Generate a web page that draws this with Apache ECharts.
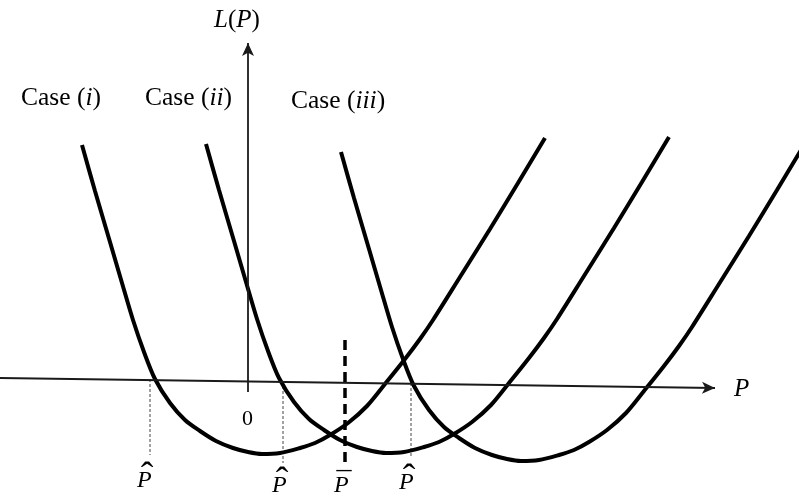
<!DOCTYPE html>
<html>
<head>
<meta charset="utf-8">
<script src="https://cdn.jsdelivr.net/npm/echarts@6/dist/echarts.min.js"></script>
<style>
  html, body { margin: 0; padding: 0; background: #fff; }
  #chart { width: 799px; height: 500px; }
</style>
</head>
<body>
<div id="chart"></div>
<script>
// curves as [P, L]
var caseI = [[-166,237],[-153,191],[-138,140],[-126,99],[-115,62],[-104,30],[-93,3],[-78,-21],[-63,-38],[-48,-49],[-32,-59],[-15,-66],[0,-70],[14,-72],[32,-71],[52,-66],[67,-61],[82,-53],[100,-41],[119,-24],[137,-2],[157,23],[172,43],[185,62],[212,105],[242,153],[270,199],[297,244]]
var caseII = [[-42,238],[-29,192],[-14,141],[-2,100],[9,63],[20,31],[31,4],[46,-20],[61,-37],[76,-48],[92,-58],[109,-65],[124,-69],[138,-71],[156,-70],[176,-65],[191,-60],[206,-52],[224,-40],[243,-23],[261,-1],[281,24],[296,44],[309,63],[336,106],[366,154],[394,200],[421,245]]
var caseIII = [[93,230],[106,184],[121,133],[133,92],[144,55],[155,23],[166,-4],[181,-28],[196,-45],[211,-56],[227,-66],[244,-73],[259,-77],[273,-79],[291,-78],[311,-73],[326,-68],[341,-60],[359,-48],[378,-31],[396,-9],[416,16],[431,36],[444,55],[471,98],[501,146],[529,192],[556,237]]

// axes (the P axis is drawn a little tilted in the picture)
var pAxis = [[-248, 4], [467, -6]]
var lAxis = [[0, -10], [0, 339]]

// P-hat guides: position, top, bottom
var hatP = [-98, 35, 163]
var hatTop = [3, 1, -1]
var hatBottom = [-73, -81, -75]
// P-bar
var barP = 97
var barLine = [42, -81]

var chart = echarts.init(document.getElementById('chart'))

var serif = '"Liberation Serif", "Times New Roman", serif'

function curve(data) {
  return {
    type: 'line',
    data: data,
    smooth: 0.3,
    showSymbol: false,
    silent: true,
    lineStyle: { color: '#000', width: 4 },
    z: 3
  }
}

var series = [curve(caseI), curve(caseII), curve(caseIII)]

// thin dotted guides below the P axis
hatP.forEach(function (p, i) {
  series.push({
    type: 'line',
    data: [[p, hatTop[i]], [p, hatBottom[i]]],
    showSymbol: false,
    silent: true,
    lineStyle: { color: '#444', width: 1, type: [3, 2] },
    z: 2
  })
})

// bold dashed line at P-bar
series.push({
  type: 'line',
  data: [[barP, barLine[0]], [barP, barLine[1]]],
  showSymbol: false,
  silent: true,
  lineStyle: { color: '#000', width: 3.5, type: [10, 6] },
  z: 2
})

// the two axes with arrow heads
series.push({
  type: 'line',
  data: [],
  silent: true,
  markLine: {
    silent: true,
    symbol: ['none', 'arrow'],
    symbolSize: [9, 13],
    label: { show: false },
    lineStyle: { color: '#1a1a1a', width: 1.8, type: 'solid' },
    data: [
      [{ coord: pAxis[0] }, { coord: pAxis[1] }],
      [{ coord: lAxis[0] }, { coord: lAxis[1] }]
    ]
  }
})

function txt(x, y, text, size, italic, align) {
  return {
    type: 'text',
    x: x,
    y: y,
    silent: true,
    style: {
      text: text,
      font: (italic ? 'italic ' : '') + size + 'px ' + serif,
      fill: '#000',
      textAlign: align || 'left',
      textVerticalAlign: 'middle',
      rich: {
        i: { fontStyle: 'italic', fontSize: size, fontFamily: serif }
      }
    }
  }
}

chart.setOption({
  animation: false,
  grid: { left: 0, right: 0, top: 0, bottom: 0 },
  xAxis: { type: 'value', min: -248, max: 551, show: false },
  yAxis: { type: 'value', min: -118, max: 382, show: false },
  series: series,
  graphic: [
    txt(21, 98, 'Case ({i|i})', 25.5),
    txt(145, 98, 'Case ({i|ii})', 25.5),
    txt(291, 101, 'Case ({i|iii})', 25.5),
    txt(214, 20, '{i|L}({i|P})', 25),
    txt(734, 389, 'P', 25, true),
    txt(242, 419, '0', 22),
    // P-hat, P-bar labels
    txt(137, 481, 'P', 24, true),
    txt(272, 486, 'P', 24, true),
    txt(334, 486, 'P', 24, true),
    txt(399, 483, 'P', 24, true),
    txt(147, 478, '\u02c6', 38, false, 'center'),
    txt(282, 483, '\u02c6', 38, false, 'center'),
    txt(344, 484, '\u00af', 30, false, 'center'),
    txt(409, 480, '\u02c6', 38, false, 'center')
  ]
})
</script>
</body>
</html>
